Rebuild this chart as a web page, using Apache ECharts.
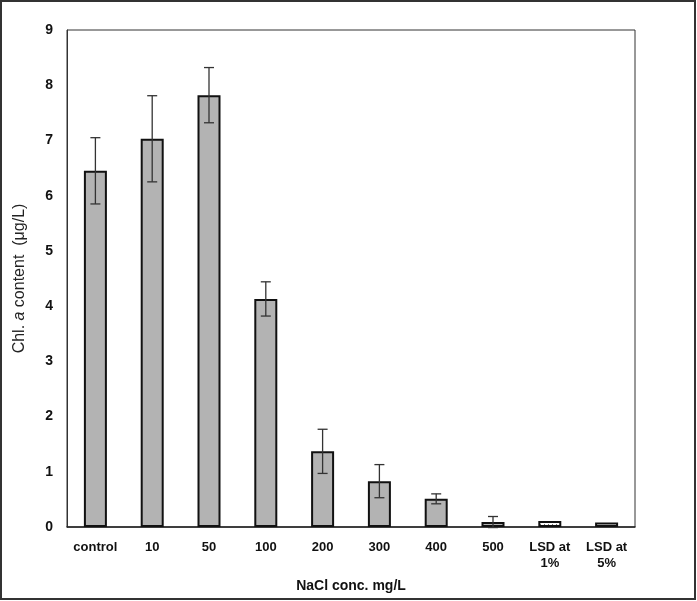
<!DOCTYPE html>
<html><head><meta charset="utf-8">
<script src="https://cdn.jsdelivr.net/npm/echarts@6/dist/echarts.min.js"></script>
<style>html,body{margin:0;padding:0;background:#fff}#c{width:697px;height:601px}</style>
</head><body><div id="c"></div>
<script>
var categories = ['control','10','50','100','200','300','400','500','LSD at\n1%','LSD at\n5%'];
var means = [6.45, 7.03, 7.82, 4.13, 1.37, 0.83, 0.51, 0.09, 0.11, 0.08];
var errors = [0.6, 0.78, 0.5, 0.31, 0.4, 0.3, 0.09, 0.1, null, null];
var yTicks = [0,1,2,3,4,5,6,7,8,9];

var pc = document.createElement('canvas'); pc.width = 4; pc.height = 4;
var g = pc.getContext('2d'); g.fillStyle = '#fff'; g.fillRect(0,0,4,4);
g.fillStyle = '#777'; g.fillRect(0,0,1,1); g.fillRect(2,2,1,1);

var barData = means.map(function(v,i){
  var it = {value:v};
  if (i === 8) it.itemStyle = {color:{image:pc, repeat:'repeat'}};
  if (i === 9) it.itemStyle = {color:'#fff'};
  return it;
});
var errData = [];
errors.forEach(function(e,i){ if(e!=null) errData.push([i, means[i]-e, means[i]+e]); });

var chart = echarts.init(document.getElementById('c'));
chart.setOption({
  animation:false,
  grid:{left:67, right:62, top:30, bottom:74, show:true, borderColor:'#333', borderWidth:1},
  graphic:[{type:'rect', shape:{x:1,y:1,width:694,height:598}, style:{fill:'none', stroke:'#333', lineWidth:2}, silent:true}],
  xAxis:{type:'category', data:categories,
    axisLine:{lineStyle:{color:'#222', width:1.5}}, axisTick:{show:false},
    axisLabel:{color:'#111', fontFamily:'Liberation Sans', fontWeight:'bold', fontSize:13, margin:12, interval:0, lineHeight:16},
    name:'NaCl conc. mg/L', nameLocation:'middle', nameGap:52,
    nameTextStyle:{color:'#111', fontFamily:'Liberation Sans', fontWeight:'bold', fontSize:14}},
  yAxis:{type:'value', min:0, max:9, interval:1,
    axisLine:{show:true, lineStyle:{color:'#333'}}, axisTick:{show:false}, splitLine:{show:false},
    axisLabel:{color:'#111', fontFamily:'Liberation Sans', fontWeight:'bold', fontSize:14, margin:14},
    name:'{n|Chl. }{i|a}{n| content  (μg/L)}', nameLocation:'middle', nameGap:39,
    nameTextStyle:{rich:{n:{fontFamily:'Liberation Sans', fontSize:16, color:'#222'}, i:{fontFamily:'Liberation Sans', fontSize:16, fontStyle:'italic', color:'#222'}}}},
  series:[
    {type:'bar', data:barData, barWidth:23,
     itemStyle:{color:'#b3b3b3', borderColor:'#111', borderWidth:2}},
    {type:'custom', data:errData, z:5,
     renderItem:function(params, api){
       var x = api.value(0);
       var lo = api.coord([x, api.value(1)]);
       var hi = api.coord([x, api.value(2)]);
       var cw = 5;
       var st = {stroke:'#333', lineWidth:1.3};
       return {type:'group', children:[
         {type:'line', shape:{x1:lo[0],y1:lo[1],x2:hi[0],y2:hi[1]}, style:st},
         {type:'line', shape:{x1:lo[0]-cw,y1:lo[1],x2:lo[0]+cw,y2:lo[1]}, style:st},
         {type:'line', shape:{x1:hi[0]-cw,y1:hi[1],x2:hi[0]+cw,y2:hi[1]}, style:st}
       ]};
     }}
  ]
});
</script></body></html>
